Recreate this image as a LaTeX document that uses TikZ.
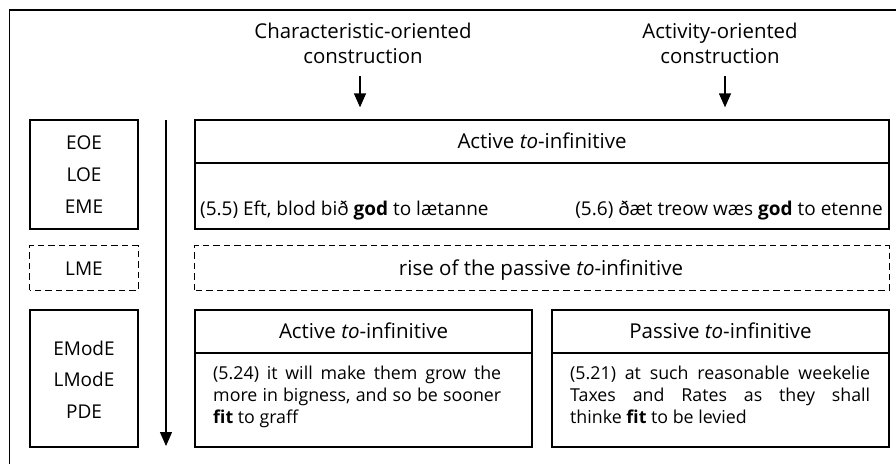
\documentclass[tikz,border=0pt]{standalone}
\usepackage{fontspec}
\setmainfont{Open Sans}
\usetikzlibrary{arrows.meta}
\begin{document}
\begin{tikzpicture}[x=1pt,y=-1pt,
  font=\fontsize{19}{20}\selectfont,
  frame/.style={line width=1.3pt},
  period/.style={draw, line width=1.3pt, minimum width=108pt, inner sep=0pt, align=center},
  stage/.style={draw, line width=1.3pt, inner sep=0pt},
  dashbox/.style={line width=1.3pt, dash pattern=on 6.5pt off 4pt},
  label/.style={inner sep=0pt, align=center, font=\fontsize{20.4}{25}\selectfont},
  head/.style={inner sep=0pt, font=\fontsize{20.5}{22}\selectfont},
  txt/.style={inner sep=0pt},
  para/.style={inner sep=0pt, align=justify, font=\fontsize{17.8}{22}\selectfont},
  arr/.style={line width=1.3pt, -{Triangle[length=14pt,width=12pt]}}]

% canvas and outer frame (open to the right and bottom)
\useasboundingbox (0,0) rectangle (896,463);
\clip (0,0) rectangle (896,463);
\draw[frame] (905,10) -- (9.5,10) -- (9.5,470);

% construction types on top
\node[label, anchor=base] (charlbl) at (363,63.3) {Characteristic-oriented\\construction};
\node[label, anchor=base] (actlbl) at (720,63.3) {Activity-oriented\\construction};

% periods
\node[period, minimum height=109pt] (oe) at (84,174.5) {};
\node[txt, anchor=base] (eoe) at (84,149) {EOE};
\node[txt, anchor=base] (loe) at (84,181) {LOE};
\node[txt, anchor=base] (eme) at (84,213) {EME};

\node[minimum width=108pt, minimum height=44pt, inner sep=0pt] (lme) at (84,268) {};
\draw[dashbox] (lme.south west) rectangle (lme.north east);
\node[txt, anchor=base] (lmetxt) at (84,275.5) {LME};

\node[period, minimum height=137pt] (mode) at (84,378.5) {};
\node[txt, anchor=base] (emode) at (84,355) {EModE};
\node[txt, anchor=base] (lmode) at (84,386.7) {LModE};
\node[txt, anchor=base] (pde) at (84,418.3) {PDE};

% time axis
\coordinate (t0) at (166,120);
\coordinate (t1) at (166,446);
\draw[arr] (t0) -- (t1);

% Old English to early Middle English stage
\node[stage, minimum width=694pt, minimum height=109pt] (top) at (542,174.5) {};
\draw[line width=1.3pt] (top.west |- 0,163) -- (top.east |- 0,163);
\node[head, anchor=base] (tophead) at (542,148.3) {Active \textit{to}-infinitive};
\node[txt, anchor=base west] (ex55) at (200,215) {(5.5) Eft, blod bið \textbf{god} to lætanne};
\node[txt, anchor=base east] (ex56) at (883,215) {(5.6) ðæt treow wæs \textbf{god} to etenne};

% arrows from the construction types
\draw[arr, shorten <=12.5pt, shorten >=12pt] ([xshift=-3pt]charlbl.south) -- ([xshift=-3pt]charlbl.south |- top.north);
\draw[arr, shorten <=12.5pt, shorten >=12pt] ([xshift=5pt]actlbl.south) -- ([xshift=5pt]actlbl.south |- top.north);

% Late Middle English transition
\node[minimum width=694pt, minimum height=44pt, inner sep=0pt] (rise) at (542,268) {};
\draw[dashbox] (rise.south west) rectangle (rise.north east);
\node[head, anchor=base] (risetxt) at (541,275.7) {rise of the passive \textit{to}-infinitive};

% Modern English stage
\node[stage, minimum width=337pt, minimum height=137pt] (active) at (363.5,378.5) {};
\draw[line width=1.3pt] (active.west |- 0,353) -- (active.east |- 0,353);
\node[head, anchor=base] (acthead) at (363.5,338.5) {Active \textit{to}-infinitive};
\node[para, text width=288pt, anchor=north west] (ex524) at (213,366) {(5.24) it will make them grow the\linebreak more in bigness, and so be sooner\linebreak \textbf{fit} to graff};

\node[stage, minimum width=337pt, minimum height=137pt] (passive) at (720.5,378.5) {};
\draw[line width=1.3pt] (passive.west |- 0,353) -- (passive.east |- 0,353);
\node[head, anchor=base] (pashead) at (720.5,338.5) {Passive \textit{to}-infinitive};
\node[para, text width=300pt, anchor=north west] (ex521) at (570,366) {(5.21) at such reasonable weekelie\linebreak Taxes and Rates as they shall\linebreak thinke \textbf{fit} to be levied};
\end{tikzpicture}
\end{document}
